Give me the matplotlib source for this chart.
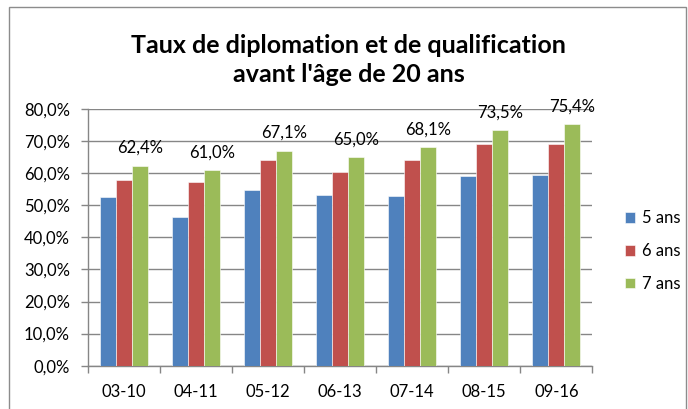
import numpy as np
import matplotlib
matplotlib.use("Agg")
import matplotlib.pyplot as plt
from matplotlib.patches import Rectangle
from matplotlib.ticker import FuncFormatter, FixedLocator

plt.rcParams['font.family'] = ['Lato', 'DejaVu Sans']

periodes = ["03-10", "04-11", "05-12", "06-13", "07-14", "08-15", "09-16"]
ans_5 = [52.5, 46.4, 54.8, 53.3, 52.9, 59.3, 59.5]
ans_6 = [57.9, 57.4, 64.1, 60.5, 64.3, 69.3, 69.0]
ans_7 = [62.4, 61.0, 67.1, 65.0, 68.1, 73.5, 75.4]
series = ["5 ans", "6 ans", "7 ans"]
couleurs = ["#4F81BD", "#C0504D", "#9BBB59"]

fig = plt.figure(figsize=(6.88, 4.09), dpi=100)
ax = fig.add_axes([0.128, 0.106, 0.733, 0.627])

# cadre du graphique
fig.patches.append(Rectangle((9/688, -0.01), 677/688, 1 - 7/409 + 0.01, transform=fig.transFigure,
                             fill=False, edgecolor="#8C8C8C", linewidth=1))

x = np.arange(len(periodes))
w = 0.222
for i, (vals, lab, c) in enumerate(zip([ans_5, ans_6, ans_7], series, couleurs)):
    bars = ax.bar(x + (i - 1) * w, np.array(vals) / 100, w, color=c, label=lab,
                  edgecolor="white", linewidth=0.4, zorder=3)
    if i == 2:
        for b, v in zip(bars, vals):
            ax.text(b.get_x() + b.get_width() / 2, v / 100 + 0.03, f"{v:.1f}%".replace(".", ","),
                    ha="center", va="bottom", fontsize=12, color="#000000")

ax.set_ylim(0, 0.8)
ax.set_xlim(-0.5, len(periodes) - 0.5)
ax.set_yticks(np.arange(0, 0.81, 0.1))
ax.yaxis.set_major_formatter(FuncFormatter(lambda v, p: f"{v*100:.1f}%".replace(".", ",")))
ax.yaxis.grid(True, color="#868686", linewidth=1, zorder=0)

ax.set_xticks(x)
ax.set_xticklabels(periodes)
ax.xaxis.set_minor_locator(FixedLocator(np.arange(-0.5, len(periodes), 1)))
ax.tick_params(axis="x", which="major", length=0, pad=13, labelsize=12)
ax.tick_params(axis="x", which="minor", length=5, color="#868686", width=1)
ax.tick_params(axis="y", length=5, color="#868686", width=1, labelsize=12, pad=8)

for s in ["top", "right"]:
    ax.spines[s].set_visible(False)
for s in ["left", "bottom"]:
    ax.spines[s].set_color("#868686")
    ax.spines[s].set_linewidth(1)

fig.legend(loc="center left", bbox_to_anchor=(0.897, 0.386), frameon=False,
           fontsize=12, handlelength=0.6, handleheight=0.6, handletextpad=0.4,
           labelspacing=1.0, borderpad=0)

fig.text(0.507, 0.853, "Taux de diplomation et de qualification\navant l'âge de 20 ans",
         ha="center", va="center", fontsize=18, fontweight="bold", linespacing=1.3)

fig.savefig("out.png", dpi=100)
